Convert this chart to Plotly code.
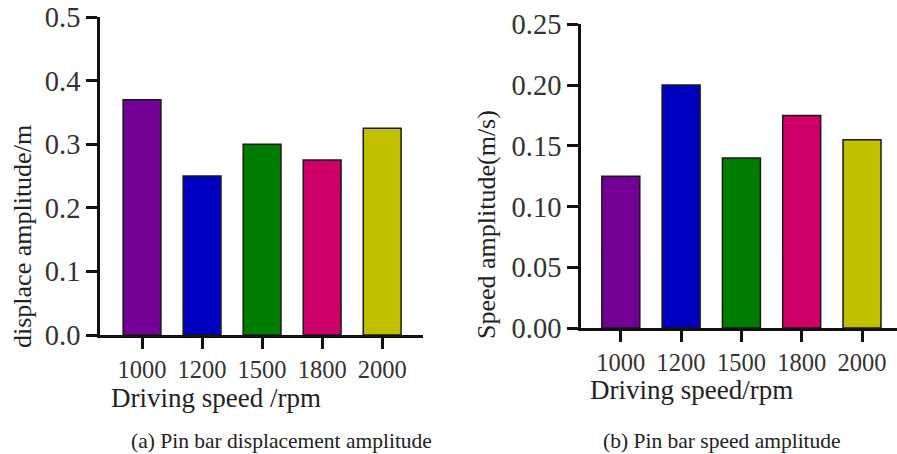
import plotly.graph_objects as go

categories = ["1000", "1200", "1500", "1800", "2000"]
displacement = [0.37, 0.25, 0.30, 0.275, 0.325]
speed = [0.125, 0.20, 0.14, 0.175, 0.155]
colors = ["#730094", "#0000C0", "#007D00", "#CC0066", "#C0C000"]
disp_ticks = [0.0, 0.1, 0.2, 0.3, 0.4, 0.5]
disp_ticklabels = ["0.0", "0.1", "0.2", "0.3", "0.4", "0.5"]
speed_ticks = [0.0, 0.05, 0.10, 0.15, 0.20, 0.25]
speed_ticklabels = ["0.00", "0.05", "0.10", "0.15", "0.20", "0.25"]

W, H = 897, 454
FONT = "Liberation Serif, Times New Roman, serif"

fig = go.Figure()
xi = list(range(len(categories)))
fig.add_trace(go.Bar(x=xi, y=displacement, marker=dict(color=colors, line=dict(color="#1a1a1a", width=1.5)),
                     width=0.63, xaxis="x", yaxis="y", showlegend=False))
fig.add_trace(go.Bar(x=xi, y=speed, marker=dict(color=colors, line=dict(color="#1a1a1a", width=1.5)),
                     width=0.63, xaxis="x2", yaxis="y2", showlegend=False))

def px(x):
    return x / W

def py(y):
    return 1 - y / H

axis_common = dict(showgrid=False, zeroline=False, showline=True, linecolor="#111", linewidth=2.8,
                   ticks="outside", tickcolor="#111", tickwidth=2.8, ticklen=11, automargin=False)

fig.update_layout(
    template="none",
    width=W, height=H, margin=dict(l=0, r=0, t=0, b=0, pad=0),
    paper_bgcolor="white", plot_bgcolor="white",
    font=dict(family=FONT, color="#333"),
    xaxis=dict(domain=[px(100), px(423)], range=[-0.7, 4.68], tickmode="array", tickvals=xi, ticktext=categories,
               tickfont=dict(size=24.5, color="#333"), anchor="y", **axis_common),
    yaxis=dict(domain=[py(335), py(17)], range=[0, 0.5], tickmode="array", tickvals=disp_ticks,
               ticktext=disp_ticklabels, tickfont=dict(size=28.5, color="#333"), anchor="x", **axis_common),
    xaxis2=dict(domain=[px(581), 1.0], range=[-0.66, 4.58], tickmode="array", tickvals=xi, ticktext=categories,
                tickfont=dict(size=24.5, color="#333"), anchor="y2", **axis_common),
    yaxis2=dict(domain=[py(328), py(24.3)], range=[0, 0.25], tickmode="array", tickvals=speed_ticks,
                ticktext=speed_ticklabels, tickfont=dict(size=28.5, color="#333"), anchor="x2", **axis_common),
)

ann = [
    dict(text="Driving speed /rpm", x=px(216), y=py(398), size=27, angle=0),
    dict(text="Driving speed/rpm", x=px(691), y=py(390), size=27, angle=0),
    dict(text="displace amplitude/m", x=px(23), y=py(237), size=26, angle=-90),
    dict(text="Speed amplitude(m/s)", x=px(487), y=py(225), size=26, angle=-90),
    dict(text="(a) Pin bar displacement amplitude", x=px(281), y=py(441), size=21.5, angle=0),
    dict(text="(b) Pin bar speed amplitude", x=px(722), y=py(441), size=21.5, angle=0),
]
for a in ann:
    fig.add_annotation(text=a["text"], x=a["x"], y=a["y"], xref="paper", yref="paper",
                       xanchor="center", yanchor="middle", showarrow=False, textangle=a["angle"],
                       font=dict(family=FONT, size=a["size"], color="#222"))

fig.write_html("out.html")
